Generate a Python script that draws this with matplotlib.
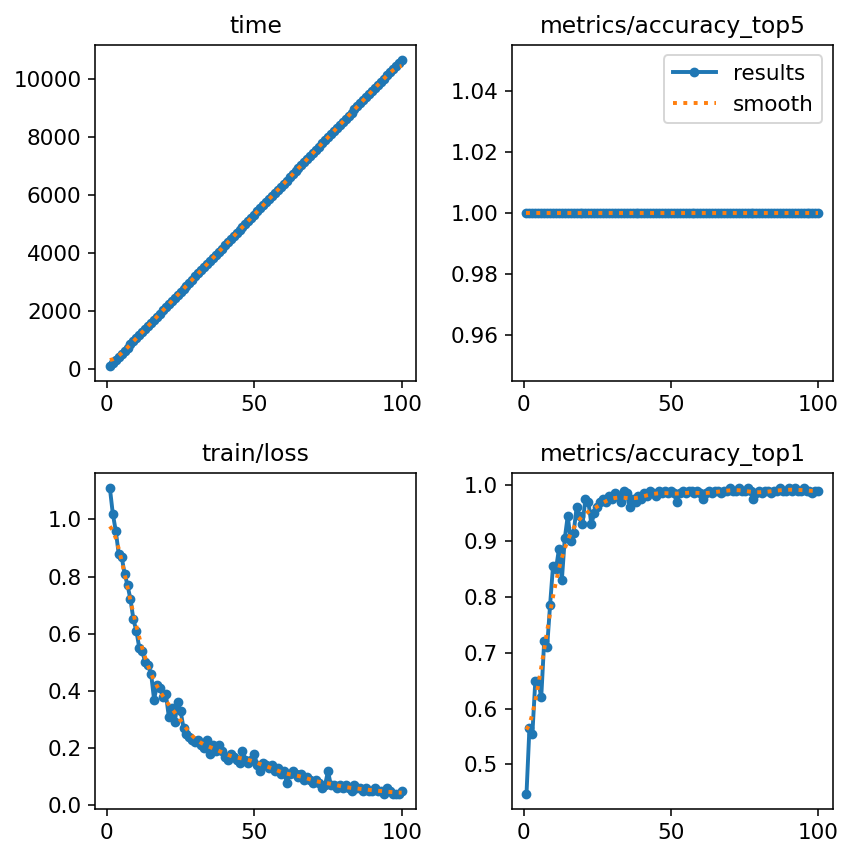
import numpy as np
import matplotlib
matplotlib.use("Agg")
import matplotlib.pyplot as plt

plt.rcParams["font.size"] = 11

# ---------------------------------------------------
# Training results
# ---------------------------------------------------
epochs = np.arange(1, 101)

time_s = [
    108, 215, 321, 428, 534, 641, 748, 854, 961, 1068,
    1175, 1281, 1388, 1494, 1601, 1708, 1815, 1921, 2028, 2135,
    2241, 2348, 2455, 2561, 2668, 2775, 2882, 2988, 3095, 3202,
    3308, 3415, 3522, 3628, 3735, 3842, 3948, 4055, 4162, 4269,
    4375, 4482, 4589, 4695, 4802, 4909, 5015, 5122, 5229, 5336,
    5442, 5549, 5656, 5762, 5869, 5976, 6082, 6189, 6296, 6403,
    6509, 6616, 6723, 6829, 6936, 7043, 7149, 7256, 7363, 7470,
    7576, 7683, 7790, 7896, 8003, 8110, 8216, 8323, 8430, 8537,
    8643, 8750, 8857, 8963, 9070, 9177, 9283, 9390, 9497, 9604,
    9710, 9817, 9924, 10030, 10137, 10244, 10350, 10457, 10564, 10671,
]

acc_top5 = [1.0] * 100

train_loss = [
    1.11, 1.02, 0.96, 0.88, 0.87, 0.81, 0.77, 0.72, 0.65, 0.61,
    0.55, 0.54, 0.50, 0.49, 0.46, 0.37, 0.42, 0.41, 0.38, 0.39,
    0.31, 0.34, 0.29, 0.36, 0.33, 0.27, 0.25, 0.24, 0.23, 0.22,
    0.23, 0.21, 0.20, 0.23, 0.18, 0.21, 0.19, 0.21, 0.19, 0.17,
    0.16, 0.18, 0.17, 0.16, 0.15, 0.19, 0.16, 0.15, 0.16, 0.18,
    0.14, 0.12, 0.15, 0.14, 0.13, 0.14, 0.12, 0.13, 0.11, 0.12,
    0.08, 0.11, 0.12, 0.11, 0.10, 0.11, 0.09, 0.10, 0.09, 0.08,
    0.09, 0.08, 0.06, 0.07, 0.12, 0.07, 0.07, 0.06, 0.07, 0.06,
    0.07, 0.06, 0.05, 0.07, 0.06, 0.06, 0.05, 0.06, 0.05, 0.05,
    0.06, 0.05, 0.05, 0.04, 0.06, 0.05, 0.04, 0.04, 0.04, 0.05,
]

acc_top1 = [
    0.447, 0.565, 0.555, 0.650, 0.650, 0.620, 0.720, 0.710, 0.785, 0.855,
    0.850, 0.885, 0.830, 0.905, 0.945, 0.900, 0.915, 0.960, 0.945, 0.930,
    0.975, 0.970, 0.930, 0.950, 0.960, 0.970, 0.975, 0.970, 0.980, 0.975,
    0.985, 0.980, 0.970, 0.990, 0.985, 0.960, 0.975, 0.970, 0.980, 0.975,
    0.985, 0.980, 0.990, 0.985, 0.980, 0.990, 0.985, 0.990, 0.985, 0.990,
    0.985, 0.970, 0.985, 0.990, 0.985, 0.990, 0.990, 0.985, 0.990, 0.985,
    0.975, 0.985, 0.990, 0.985, 0.990, 0.990, 0.985, 0.990, 0.990, 0.995,
    0.990, 0.990, 0.995, 0.990, 0.990, 0.995, 0.990, 0.975, 0.985, 0.990,
    0.985, 0.990, 0.990, 0.985, 0.990, 0.990, 0.995, 0.990, 0.990, 0.995,
    0.990, 0.995, 0.990, 0.990, 0.995, 0.990, 0.990, 0.985, 0.990, 0.990,
]

titles = ["time", "metrics/accuracy_top5", "train/loss", "metrics/accuracy_top1"]
series = [time_s, acc_top5, train_loss, acc_top1]


def gaussian_smooth(y, sigma=3, truncate=4.0):
    # same as scipy.ndimage.gaussian_filter1d (mode='reflect')
    r = int(truncate * sigma + 0.5)
    k = np.exp(-0.5 * (np.arange(-r, r + 1) / sigma) ** 2)
    k /= k.sum()
    yp = np.pad(np.asarray(y, dtype=float), r, mode="symmetric")
    return np.convolve(yp, k, mode="valid")


# ---------------------------------------------------
# Plot
# ---------------------------------------------------
fig, ax = plt.subplots(2, 2, figsize=(6, 6), dpi=140.5)
fig.subplots_adjust(left=0.113, right=0.988, top=0.947, bottom=0.040,
                    wspace=0.298, hspace=0.271)
ax = ax.ravel()
for i, (title, y) in enumerate(zip(titles, series)):
    ax[i].plot(epochs, y, marker=".", label="results", linewidth=2, markersize=8)
    ax[i].plot(epochs, gaussian_smooth(y), ":", label="smooth", linewidth=2)
    ax[i].set_title(title, fontsize=12)
ax[1].legend()

fig.savefig("out.png", dpi=140.5)
